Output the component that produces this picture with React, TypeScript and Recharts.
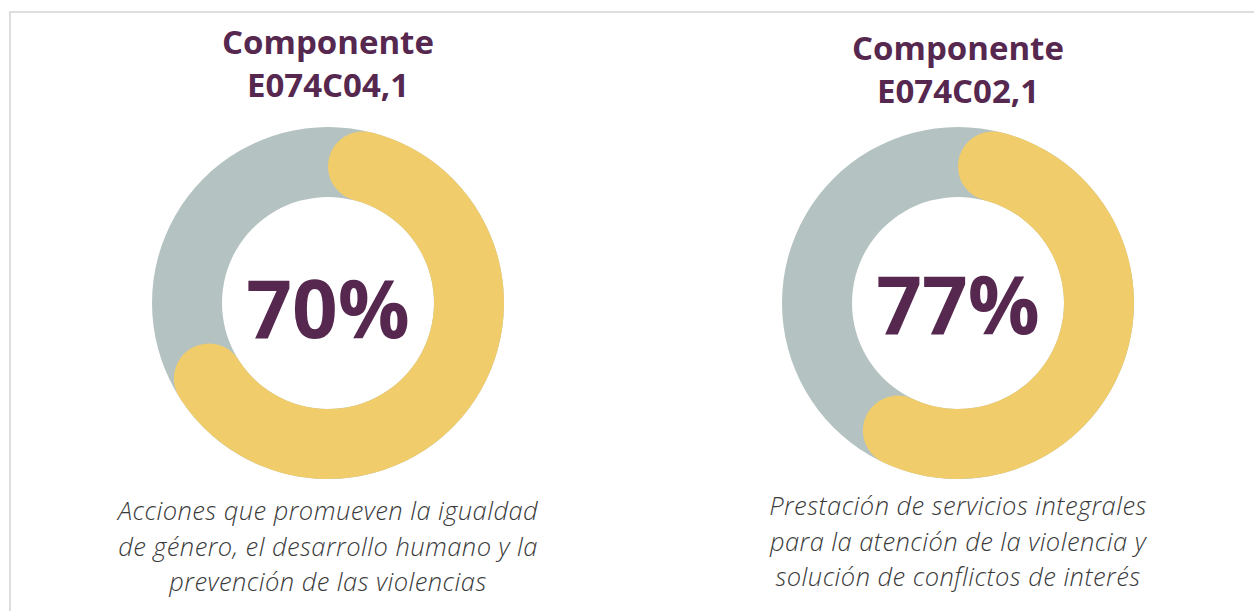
import { PieChart, Pie, Cell } from "recharts";

// two component cards, left and right
const componentCodes = ["E074C04,1", "E074C02,1"];
const percentLabels = ["70%", "77%"];
// share of the ring actually painted in the figure (the right one is drawn short of its label)
const arcValues = [70, 61];
const ringTotal = 100;
const captions = [
  [
    "Acciones que promueven la igualdad",
    "de género, el desarrollo humano y la",
    "prevención de las violencias",
  ],
  [
    "Prestación de servicios integrales",
    "para la atención de la violencia y",
    "solución de conflictos de interés",
  ],
];

const PURPLE = "#56284f";
const GOLD = "#f0cc6a";
const SAGE = "#b4c3c1";
const FONT = "'Open Sans', 'Noto Sans', sans-serif";

// layout of each card
const centersX = [328, 958];
const CENTER_Y = 303;
const titleTops = [20, 26];
const percentTops = [267, 263];
const captionTops = [493, 488];

export default function App() {
  return (
    <div
      style={{
        position: "absolute",
        left: 0,
        top: 0,
        width: 1254,
        height: 611,
        overflow: "hidden",
        background: "#fff",
        fontFamily: FONT,
      }}
    >
      <div
        style={{
          position: "absolute",
          left: 9,
          top: 11,
          width: 1400,
          height: 800,
          border: "2px solid #dedede",
        }}
      />
      <div style={{ position: "absolute", left: 0, top: 0 }}>
        <PieChart width={1254} height={611} margin={{ top: 0, right: 0, bottom: 0, left: 0 }}>
          {arcValues.map((v, i) => (
            <Pie
              key={`bg-${i}`}
              data={[{ name: "total", value: ringTotal }]}
              dataKey="value"
              cx={centersX[i]}
              cy={CENTER_Y}
              innerRadius={106}
              outerRadius={176}
              startAngle={90}
              endAngle={-270}
              stroke="none"
              isAnimationActive={false}
            >
              <Cell fill={SAGE} />
            </Pie>
          ))}
          {arcValues.map((v, i) => (
            <Pie
              key={`fg-${i}`}
              data={[
                { name: "avance", value: v },
                { name: "resto", value: ringTotal - v },
              ]}
              dataKey="value"
              cx={centersX[i]}
              cy={CENTER_Y}
              innerRadius={106}
              outerRadius={176}
              startAngle={90}
              endAngle={-270}
              cornerRadius={35}
              paddingAngle={0}
              stroke="none"
              isAnimationActive={false}
            >
              <Cell fill={GOLD} />
              <Cell fill="transparent" />
            </Pie>
          ))}
        </PieChart>
      </div>

      {componentCodes.map((code, i) => (
        <div
          key={`t-${i}`}
          style={{
            position: "absolute",
            left: centersX[i] - 200,
            width: 400,
            top: titleTops[i],
            textAlign: "center",
            color: PURPLE,
            fontWeight: 700,
            fontSize: 33,
            lineHeight: "43px",
          }}
        >
          <div>Componente</div>
          <div>{code}</div>
        </div>
      ))}

      {percentLabels.map((p, i) => (
        <div
          key={`p-${i}`}
          style={{
            position: "absolute",
            left: centersX[i] - 150,
            width: 300,
            top: percentTops[i],
            textAlign: "center",
            color: PURPLE,
            fontWeight: 700,
            fontSize: 80,
            lineHeight: "80px",
          }}
        >
          {p}
        </div>
      ))}

      {captions.map((lines, i) => (
        <div
          key={`c-${i}`}
          style={{
            position: "absolute",
            left: centersX[i] - 250,
            width: 500,
            top: captionTops[i],
            textAlign: "center",
            color: "#3a3a3a",
            fontStyle: "italic",
            fontWeight: 300,
            fontSize: 25.5,
            letterSpacing: 0.45,
            lineHeight: "35.5px",
          }}
        >
          {lines.map((l) => (
            <div key={l}>{l}</div>
          ))}
        </div>
      ))}
    </div>
  );
}
